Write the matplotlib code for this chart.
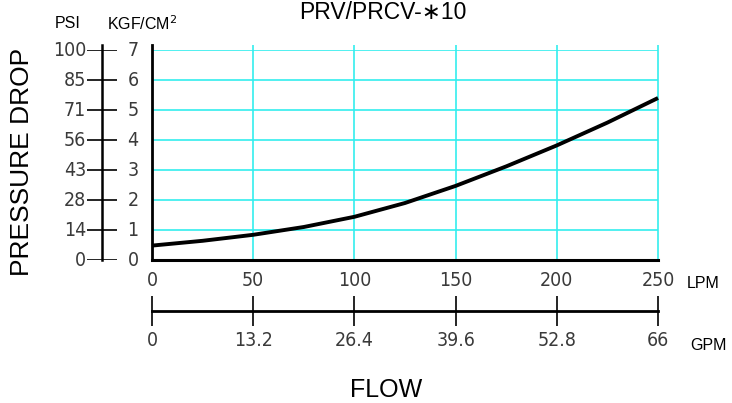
"""
Courbe de perte de charge PRV/PRCV-*10 : pression en fonction du debit,
avec double echelle (PSI / KGF/CM2 a gauche, LPM / GPM en bas).
"""
import matplotlib.pyplot as plt

# donnees
FLOW_LPM = [0, 25, 50, 75, 100, 125, 150, 175, 200, 225, 250]
DROP_KGF = [0.48, 0.64, 0.84, 1.10, 1.44, 1.90, 2.47, 3.12, 3.82, 4.58, 5.40]

LPM_TICKS = [0, 50, 100, 150, 200, 250]
GPM_TICKS = [0, 13.2, 26.4, 39.6, 52.8, 66]
GPM_LABELS = ["0", "13.2", "26.4", "39.6", "52.8", "66"]
KGF_TICKS = [0, 1, 2, 3, 4, 5, 6, 7]
PSI_LABELS = ["0", "14", "28", "43", "56", "71", "85", "100"]

W, H = 732, 403
GRID = "#33eeee"
TICK_FONT = dict(family="DejaVu Sans", fontsize=14, color="#3a3a3a",
                 fontstretch="condensed", fontweight="light")
LABEL_FONT = ["Liberation Sans", "DejaVu Sans"]


def box(x0, y0, x1, y1):
    """Rectangle en pixels (origine en haut a gauche) -> coordonnees figure."""
    return [x0 / W, 1 - y1 / H, (x1 - x0) / W, (y1 - y0) / H]


fig = plt.figure(figsize=(W / 100, H / 100), dpi=100)

# --- graphe principal
ax = fig.add_axes(box(152, 50, 658, 260))
ax.set_xlim(0, 250)
ax.set_ylim(0, 7)
for s in ax.spines.values():
    s.set_visible(False)
top = 7 + 5 / 30  # les lignes depassent un peu le cadre
ax.hlines(KGF_TICKS[1:], 0, 250, color=GRID, lw=1.2, zorder=1)
ax.vlines(LPM_TICKS[1:], 0, top, color=GRID, lw=1.2, zorder=1, clip_on=False)
ax.plot([0, 0], [0, top], color="black", lw=2, clip_on=False, zorder=3)
ax.plot([0, 250], [0, 0], color="black", lw=2.2, clip_on=False, zorder=3)
ax.plot(FLOW_LPM, DROP_KGF, color="black", lw=2.8, zorder=4, clip_on=False,
        solid_capstyle="butt")
ax.set_yticks([])
ax.set_xticks(LPM_TICKS)
ax.set_xticklabels([str(v) for v in LPM_TICKS], **TICK_FONT)
ax.tick_params(axis="x", length=0, pad=8)
ax.text(1.057, -0.11, "LPM", transform=ax.transAxes, ha="left", va="center",
        family=LABEL_FONT, fontsize=11.5)

# --- echelle PSI / KGF
axp = fig.add_axes(box(87, 50, 117, 260))
axp.set_xlim(-1, 1)
axp.set_ylim(0, 7)
axp.axis("off")
axp.plot([0, 0], [0, top], color="black", lw=1.8, clip_on=False)
axp.hlines(KGF_TICKS, -1, 1, color="black", lw=1.2)
for k, psi in zip(KGF_TICKS, PSI_LABELS):
    axp.text(-1.05, k, psi, ha="right", va="center", **TICK_FONT)
    axp.text(1.7, k, str(k), ha="left", va="center", **TICK_FONT)

# --- echelle GPM
axg = fig.add_axes(box(152, 296, 658, 326))
axg.set_xlim(0, 66)
axg.set_ylim(-1, 1)
axg.axis("off")
axg.plot([0, 66], [0, 0], color="black", lw=2, clip_on=False)
axg.vlines(GPM_TICKS, -1, 1, color="black", lw=1.2, clip_on=False)
for g, lab in zip(GPM_TICKS, GPM_LABELS):
    axg.text(g, -1.35, lab, ha="center", va="top", **TICK_FONT)
axg.text(70.2, -2.27, "GPM", ha="left", va="center", family=LABEL_FONT,
         fontsize=11.5)

# --- textes
fig.text(383 / W, 1 - 19 / H, "PRV/PRCV-\u221710", ha="center", va="baseline",
         family=LABEL_FONT, fontsize=16.5)
fig.text(68 / W, 1 - 24 / H, "PSI", ha="center", va="center",
         family=LABEL_FONT, fontsize=11.5)
fig.text(107 / W, 1 - 24 / H, "KGF/CM$^2$", ha="left", va="center",
         family=LABEL_FONT, fontsize=11.5)
fig.text(22 / W, 1 - 162 / H, "PRESSURE DROP", rotation=90, ha="center",
         va="center", family=LABEL_FONT, fontsize=19)
fig.text(386 / W, 1 - 390 / H, "FLOW", ha="center", va="center",
         family=LABEL_FONT, fontsize=18)

fig.savefig("out.png", dpi=100)
